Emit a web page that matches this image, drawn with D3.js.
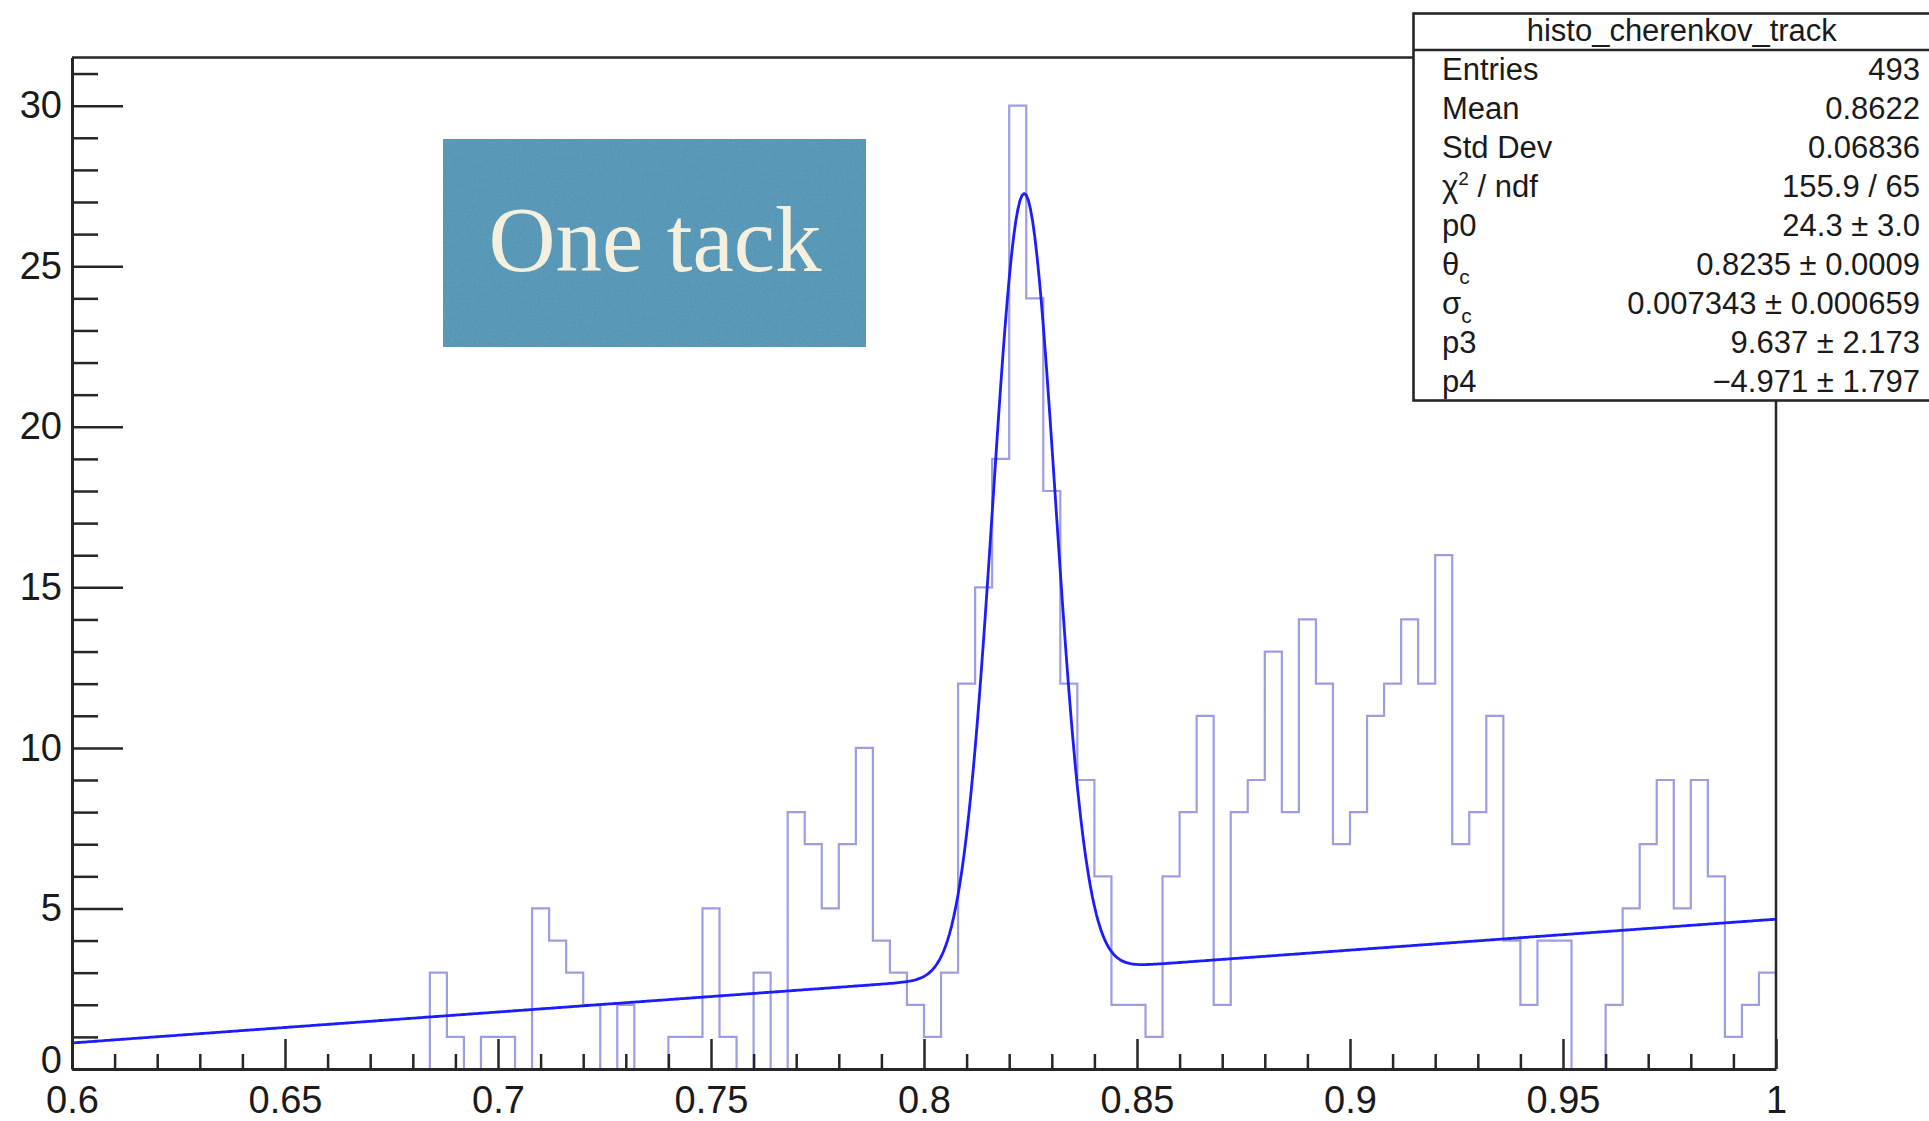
<!DOCTYPE html>
<html>
<head>
<meta charset="utf-8">
<script src="https://cdn.jsdelivr.net/npm/d3@7"></script>
<style>
  html, body { margin: 0; padding: 0; background: #ffffff; }
  svg { display: block; }
  .axis text { font-family: "Liberation Sans", Arial, Helvetica, sans-serif; font-size: 38px; fill: #1a1a1a; }
  .axis line, .axis path { stroke: #262626; }
  .stats text { font-family: "Liberation Sans", Arial, Helvetica, sans-serif; font-size: 31px; fill: #1a1a1a; }
</style>
</head>
<body>
<svg id="chart" width="1929" height="1121"></svg>
<script>
// Histogram: 100 bins of width 0.004 between 0.6 and 1.0
const xRange = [0.6, 1.0];
const yRange = [0, 31.5];
const binWidth = 0.004;
const binCounts = [
  0, 0, 0, 0, 0, 0, 0, 0, 0, 0,
  0, 0, 0, 0, 0, 0, 0, 0, 0, 0,
  0, 3, 1, 0, 1, 1, 0, 5, 4, 3,
  2, 0, 2, 0, 0, 1, 1, 5, 1, 0,
  3, 0, 8, 7, 5, 7, 10, 4, 3, 2,
  1, 3, 12, 15, 19, 30, 24, 18, 12, 9,
  6, 2, 2, 1, 6, 8, 11, 2, 8, 9,
  13, 8, 14, 12, 7, 8, 11, 12, 14, 12,
  16, 7, 8, 11, 4, 2, 4, 4, 0, 0,
  2, 5, 7, 9, 5, 9, 6, 1, 2, 3
];

// Axis ticks and labels
const xMajorTicks = [0.6, 0.65, 0.7, 0.75, 0.8, 0.85, 0.9, 0.95, 1.0];
const xTickLabels = ["0.6", "0.65", "0.7", "0.75", "0.8", "0.85", "0.9", "0.95", "1"];
const yMajorTicks = [0, 5, 10, 15, 20, 25, 30];
const yTickLabels = ["0", "5", "10", "15", "20", "25", "30"];

// Fit: gaussian peak + linear background, p0*exp(-0.5((x-θc)/σc)^2) + p3*x + p4
const fitParamValues = [24.3, 0.8235, 0.007343, 9.637, -4.971];

// Statistics box
const statTitle = "histo_cherenkov_track";
const statNames = ["Entries", "Mean", "Std Dev", "chi2", "p0", "theta_c", "sigma_c", "p3", "p4"];
const statValues = ["493", "0.8622", "0.06836", "155.9 / 65", "24.3 \u00b1 3.0",
                    "0.8235 \u00b1 0.0009", "0.007343 \u00b1 0.000659", "9.637 \u00b1 2.173", "\u22124.971 \u00b1 1.797"];

const panelLabel = "One tack";

// ---------------------------------------------------------------
const W = 1929, H = 1121;
const frame = { left: 72, right: 1776, top: 57.5, bottom: 1069 };

const svg = d3.select("#chart");
const defs = svg.append("defs");

defs.append("clipPath").attr("id", "plotClip")
  .append("rect")
  .attr("x", frame.left).attr("y", frame.top)
  .attr("width", frame.right - frame.left).attr("height", frame.bottom - frame.top);

// paper-like grain for the label panel
const grain = defs.append("filter").attr("id", "grain")
  .attr("x", 0).attr("y", 0).attr("width", "100%").attr("height", "100%")
  .attr("color-interpolation-filters", "sRGB");
grain.append("feTurbulence").attr("type", "fractalNoise").attr("baseFrequency", 0.75)
  .attr("numOctaves", 3).attr("seed", 7).attr("result", "noise");
grain.append("feColorMatrix").attr("in", "noise").attr("type", "saturate").attr("values", 0).attr("result", "mono");
grain.append("feComposite").attr("in", "SourceGraphic").attr("in2", "mono").attr("operator", "arithmetic")
  .attr("k1", 0).attr("k2", 1).attr("k3", 0.14).attr("k4", -0.07).attr("result", "mixed");
grain.append("feComposite").attr("in", "mixed").attr("in2", "SourceGraphic").attr("operator", "in");

const x = d3.scaleLinear().domain(xRange).range([frame.left, frame.right]);
const y = d3.scaleLinear().domain(yRange).range([frame.bottom, frame.top]);

svg.append("rect").attr("width", W).attr("height", H).attr("fill", "#ffffff");

const plot = svg.append("g").attr("clip-path", "url(#plotClip)");

// histogram outline
const stepPts = binCounts.map((c, i) => [xRange[0] + i * binWidth, c]);
stepPts.push([xRange[1], binCounts[binCounts.length - 1]]);
plot.append("path")
  .datum(stepPts)
  .attr("fill", "none")
  .attr("stroke", "#9d9de2")
  .attr("stroke-width", 2.2)
  .attr("d", d3.line().x(d => x(d[0])).y(d => y(d[1])).curve(d3.curveStepAfter));

// fitted function
const [p0, thetaC, sigmaC, p3, p4] = fitParamValues;
const fitFn = v => p0 * Math.exp(-0.5 * Math.pow((v - thetaC) / sigmaC, 2)) + p3 * v + p4;
const fitPts = d3.range(0, 801).map(i => {
  const v = xRange[0] + i * (xRange[1] - xRange[0]) / 800;
  return [v, fitFn(v)];
});
plot.append("path")
  .datum(fitPts)
  .attr("fill", "none")
  .attr("stroke", "#1c1cff")
  .attr("stroke-width", 2.8)
  .attr("stroke-linejoin", "round")
  .attr("d", d3.line().x(d => x(d[0])).y(d => y(d[1])));

// frame top and right
svg.append("path")
  .attr("d", `M${frame.left},${frame.top}H${frame.right}V${frame.bottom}`)
  .attr("fill", "none").attr("stroke", "#262626").attr("stroke-width", 2.5);

// x axis: minor ticks every 0.01, major every 0.05
const xMinor = d3.range(0, 41).map(i => xRange[0] + i * 0.01)
  .filter(v => !xMajorTicks.some(t => Math.abs(t - v) < 1e-9));
svg.append("g").attr("class", "axis")
  .attr("transform", `translate(0,${frame.bottom})`)
  .call(d3.axisBottom(x).tickValues(xMinor).tickFormat("").tickSizeInner(-15).tickSizeOuter(0))
  .call(g => g.select(".domain").remove())
  .call(g => g.selectAll("line").attr("stroke-width", 2.5));
svg.append("g").attr("class", "axis")
  .attr("transform", `translate(0,${frame.bottom})`)
  .call(d3.axisBottom(x).tickValues(xMajorTicks).tickFormat((d, i) => xTickLabels[i])
        .tickSizeInner(-30).tickSizeOuter(0).tickPadding(17))
  .call(g => g.select(".domain").attr("stroke-width", 3))
  .call(g => g.selectAll("line").attr("stroke-width", 2.5));

// y axis: minor ticks every 1, major every 5
const yMinor = d3.range(0, 32).filter(v => v % 5 !== 0);
svg.append("g").attr("class", "axis")
  .attr("transform", `translate(${frame.left},0)`)
  .call(d3.axisLeft(y).tickValues(yMinor).tickFormat("").tickSizeInner(-26).tickSizeOuter(0))
  .call(g => g.select(".domain").remove())
  .call(g => g.selectAll("line").attr("stroke-width", 2.5));
svg.append("g").attr("class", "axis")
  .attr("transform", `translate(${frame.left},0)`)
  .call(d3.axisLeft(y).tickValues(yMajorTicks).tickFormat((d, i) => yTickLabels[i])
        .tickSizeInner(-51).tickSizeOuter(0).tickPadding(10))
  .call(g => g.select(".domain").attr("stroke-width", 3))
  .call(g => g.selectAll("line").attr("stroke-width", 2.5))
  // the zero label sits a little higher so it clears the x labels
  .call(g => g.selectAll(".tick text").filter(d => d === 0).attr("dy", "0.1em"));

// statistics box
const box = { left: 1413.5, top: 13.5, right: 1950, bottom: 400.5, titleBottom: 50 };
const stats = svg.append("g").attr("class", "stats");
stats.append("rect")
  .attr("x", box.left).attr("y", box.top)
  .attr("width", box.right - box.left).attr("height", box.bottom - box.top)
  .attr("fill", "#ffffff").attr("stroke", "#262626").attr("stroke-width", 2.6);
stats.append("line")
  .attr("x1", box.left).attr("x2", box.right)
  .attr("y1", box.titleBottom).attr("y2", box.titleBottom)
  .attr("stroke", "#262626").attr("stroke-width", 2.6);
stats.append("text")
  .attr("x", (box.left + box.right) / 2).attr("y", 41)
  .attr("text-anchor", "middle")
  .text(statTitle);

const rowH = (box.bottom - box.titleBottom) / statNames.length;
const rowBase = i => box.titleBottom + rowH * (i + 0.5) + 10.5;

statNames.forEach((name, i) => {
  const t = stats.append("text").attr("x", 1442).attr("y", rowBase(i));
  if (name === "chi2") {
    t.append("tspan").text("\u03c7");
    t.append("tspan").attr("dy", -12).attr("font-size", 19).text("2");
    t.append("tspan").attr("dy", 12).text(" / ndf");
  } else if (name === "theta_c") {
    t.append("tspan").text("\u03b8");
    t.append("tspan").attr("dy", 9).attr("font-size", 21).text("c");
  } else if (name === "sigma_c") {
    t.append("tspan").text("\u03c3");
    t.append("tspan").attr("dy", 9).attr("font-size", 21).text("c");
  } else {
    t.text(name);
  }
  stats.append("text")
    .attr("x", 1920).attr("y", rowBase(i))
    .attr("text-anchor", "end")
    .text(statValues[i]);
});

// label panel
const panel = svg.append("g");
panel.append("rect")
  .attr("x", 443).attr("y", 139).attr("width", 423).attr("height", 208)
  .attr("fill", "#609fbd")
  .attr("filter", "url(#grain)");
panel.append("text")
  .attr("x", 655).attr("y", 271)
  .attr("text-anchor", "middle")
  .attr("font-family", "'Liberation Serif', 'DejaVu Serif', serif")
  .attr("font-size", 93)
  .attr("fill", "#f4f0dd")
  .text(panelLabel);
</script>
</body>
</html>
